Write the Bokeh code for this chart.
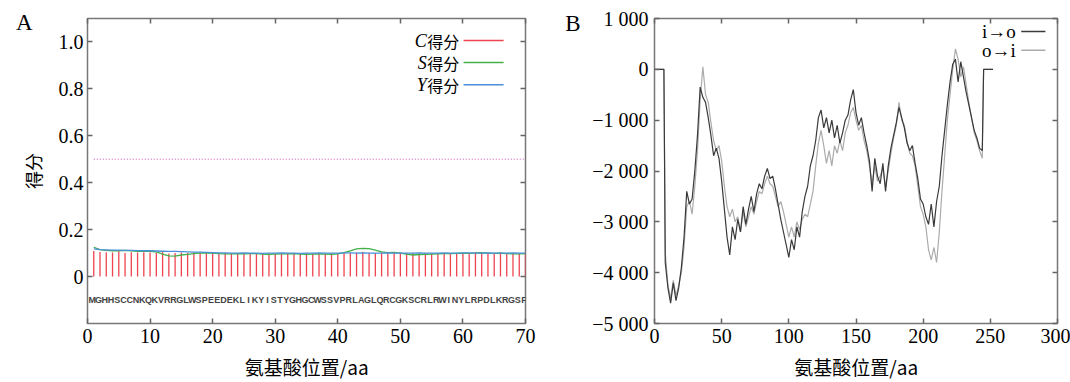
from bokeh.plotting import figure
from bokeh.models import LinearAxis, Label, FixedTicker
from bokeh.layouts import row
from bokeh.embed import file_html
from bokeh.resources import INLINE
from bokeh.core.properties import value

SERIF = "Liberation Serif"
CJK = "Noto Sans CJK SC"

# ---------------- Panel A data ----------------
seq = "MGHHSCCNKQKVRRGLWSPEEDEKLIKYISTYGHGCWSSVPRLAGLQRCGKSCRLRWINYLRPDLKRGSF"
positions_A = list(range(1, 71))
c_score = [0.109, 0.105, 0.104, 0.103, 0.108, 0.100, 0.104, 0.103, 0.104, 0.103,
           0.102, 0.105, 0.098, 0.100, 0.103, 0.101, 0.104, 0.103, 0.101, 0.100,
           0.101, 0.099, 0.100, 0.099, 0.101, 0.100, 0.101, 0.099, 0.098, 0.100,
           0.099, 0.101, 0.100, 0.098, 0.101, 0.099, 0.100, 0.101, 0.100, 0.099,
           0.100, 0.101, 0.103, 0.106, 0.102, 0.100, 0.103, 0.101, 0.100, 0.102,
           0.101, 0.100, 0.099, 0.100, 0.101, 0.100, 0.099, 0.101, 0.100, 0.101,
           0.100, 0.103, 0.104, 0.102, 0.101, 0.103, 0.101, 0.100, 0.101, 0.100]
s_score = [0.125, 0.115, 0.112, 0.110, 0.110, 0.112, 0.110, 0.108, 0.107, 0.108,
           0.105, 0.096, 0.088, 0.087, 0.092, 0.095, 0.098, 0.100, 0.101, 0.100,
           0.098, 0.097, 0.097, 0.098, 0.097, 0.098, 0.098, 0.096, 0.095, 0.096,
           0.097, 0.097, 0.098, 0.096, 0.095, 0.096, 0.096, 0.096, 0.095, 0.097,
           0.102, 0.110, 0.118, 0.120, 0.119, 0.113, 0.105, 0.102, 0.103, 0.100,
           0.096, 0.092, 0.094, 0.095, 0.096, 0.097, 0.098, 0.098, 0.099, 0.100,
           0.099, 0.101, 0.102, 0.100, 0.099, 0.100, 0.098, 0.097, 0.097, 0.098]
y_score = [0.118, 0.115, 0.114, 0.113, 0.113, 0.112, 0.112, 0.111, 0.110, 0.110,
           0.109, 0.108, 0.107, 0.107, 0.106, 0.105, 0.104, 0.104, 0.103, 0.102,
           0.101, 0.101, 0.100, 0.100, 0.101, 0.100, 0.100, 0.099, 0.100, 0.100,
           0.101, 0.100, 0.100, 0.099, 0.100, 0.100, 0.101, 0.100, 0.100, 0.100,
           0.101, 0.101, 0.100, 0.101, 0.100, 0.100, 0.100, 0.101, 0.100, 0.100,
           0.100, 0.100, 0.101, 0.100, 0.100, 0.100, 0.101, 0.100, 0.100, 0.101,
           0.101, 0.100, 0.100, 0.101, 0.100, 0.100, 0.100, 0.101, 0.100, 0.100]
cutoff = 0.5
seq_y = -0.1
xticks_A = [0, 10, 20, 30, 40, 50, 60, 70]
yticks_A = [0, 0.2, 0.4, 0.6, 0.8, 1.0]
ylabels_A = ["0", "0.2", "0.4", "0.6", "0.8", "1.0"]
legend_A = [("C", "#ee4450"), ("S", "#44b04a"), ("Y", "#4a90d8")]

# ---------------- Panel B data ----------------
pos_B = [0, 7] + list(range(8, 245, 2)) + [245, 252]
io_vals = [0, 0,
           -3800, -4300, -4600, -4200, -4550, -4300, -3900, -3300, -2400, -2650,
           -2550, -2000, -1300, -350, -550, -650, -950, -1300, -1700, -1550,
           -1750, -2200, -2750, -3300, -3650, -3100, -3350, -2950, -3200, -2700,
           -3050, -2750, -2500, -2800, -2450, -2250, -2350, -2100, -1950, -2150,
           -2100, -2350, -2650, -2950, -3200, -3450, -3700, -3350, -3550, -3100,
           -3300, -2800, -2500, -2300, -1900, -1700, -1400, -950, -800, -1150,
           -950, -1250, -1000, -1350, -1100, -1450, -1250, -1000, -900, -600,
           -400, -850, -1100, -950, -1250, -1500, -1800, -2400, -1750, -2100,
           -2250, -1850, -2400, -1900, -1550, -1300, -1050, -750, -950, -1150,
           -1450, -1600, -1500, -1850, -2150, -2550, -2650, -2900, -3050, -2650,
           -3100, -2600, -2300, -1700, -1200, -700, -250, 100, 200, -250,
           150, -150, -450, -700, -950, -1200, -1350, -1550, -1600,
           0, 0]
oi_vals = [0, 0,
           -3600, -4250, -4500, -4150, -4450, -4250, -4000, -3500, -2700, -2600,
           -2850, -2300, -1600, -600, 50, -500, -650, -1050, -1400, -1600,
           -1500, -1800, -2300, -2700, -2900, -2750, -3000, -2900, -3200, -2800,
           -3100, -2900, -2700, -2850, -2600, -2400, -2450, -2250, -2100, -2250,
           -2300, -2500, -2700, -2600, -2800, -3050, -3300, -3100, -3300, -3000,
           -3150, -2950, -2850, -2900, -2650, -2400, -1900, -1450, -1200, -1500,
           -1850, -1600, -1900, -1500, -1650, -1400, -1600, -1250, -1100, -850,
           -750, -1000, -1200, -1100, -1400, -1600, -1900, -2250, -1900, -2200,
           -2100, -1950, -2300, -2000, -1650, -1350, -1100, -650, -1000, -1100,
           -1400, -1650, -1700, -1900, -2300, -2700, -2850, -3100, -3550, -3750,
           -3500, -3800, -3200, -2400, -1700, -1000, -500, 0, 400, 200,
           -150, 50, -300, -650, -950, -1250, -1400, -1600, -1750,
           0, 0]
xticks_B = [0, 50, 100, 150, 200, 250, 300]
yticks_B = [-5000, -4000, -3000, -2000, -1000, 0, 1000]
ylabels_B = ["\u22125 000", "\u22124 000", "\u22123 000", "\u22122 000", "\u22121 000", "0", "1 000"]
legend_B = [("i\u2192o", "#3a3a3a"), ("o\u2192i", "#ababab")]


def style_frame(p, xt, yt, ylabels):
    bx = p.below[0]
    ly = p.left[0]
    bx.ticker = FixedTicker(ticks=xt)
    ly.ticker = FixedTicker(ticks=yt)
    ly.major_label_overrides = {t: s for t, s in zip(yt, ylabels)}
    top = LinearAxis(ticker=FixedTicker(ticks=xt))
    right = LinearAxis(ticker=FixedTicker(ticks=yt))
    for ax, tt in ((top, xt), (right, yt)):
        ax.major_label_overrides = {t: "" for t in tt}
        ax.major_label_text_font_size = "0px"
        ax.major_label_text_color = None
        ax.major_label_standoff = 0
    p.add_layout(top, "above")
    p.add_layout(right, "right")
    for ax in (bx, ly, top, right):
        ax.axis_line_color = None
        ax.major_tick_in = 5
        ax.major_tick_out = 0
        ax.major_tick_line_color = "#666666"
        ax.major_tick_line_width = 1.5
        ax.minor_tick_line_color = None
    for ax in (bx, ly):
        ax.major_label_text_font = SERIF
        ax.major_label_text_font_size = "20px"
        ax.major_label_text_color = "#000000"
    bx.major_label_standoff = 5
    ly.major_label_standoff = 4
    bx.axis_label = "氨基酸位置/aa"
    bx.axis_label_text_font = CJK
    bx.axis_label_text_font_size = "19px"
    bx.axis_label_text_font_style = "normal"
    bx.axis_label_text_color = "#000000"
    bx.axis_label_standoff = 7
    p.outline_line_color = "#777777"
    p.outline_line_width = 1.5
    p.xgrid.visible = False
    p.ygrid.visible = False
    p.background_fill_color = "white"
    p.border_fill_color = "white"


def panel_letter(p, letter, y_pos, standoff):
    # the panel letter is drawn as the only tick label of an outer left axis
    ax = LinearAxis(ticker=FixedTicker(ticks=[y_pos]))
    ax.major_label_overrides = {y_pos: letter}
    ax.major_label_text_font = SERIF
    ax.major_label_text_font_size = "23px"
    ax.major_label_text_color = "#000000"
    ax.major_label_standoff = standoff
    ax.axis_line_color = None
    ax.major_tick_line_color = None
    ax.major_tick_in = 0
    ax.major_tick_out = 0
    ax.minor_tick_line_color = None
    p.add_layout(ax, "left")


# ---------------- Panel A ----------------
pA = figure(width=560, height=382, x_range=(0, 70), y_range=(-0.2, 1.1),
            output_backend="svg", toolbar_location=None,
            min_border_left=87, min_border_right=35, min_border_top=18, min_border_bottom=59)
style_frame(pA, xticks_A, yticks_A, ylabels_A)
pA.left[0].axis_label = "得分"
pA.left[0].axis_label_text_font = CJK
pA.left[0].axis_label_text_font_size = "18px"
pA.left[0].axis_label_text_font_style = "normal"
pA.left[0].axis_label_text_color = "#000000"
pA.left[0].axis_label_standoff = 10
panel_letter(pA, "A", 1.083, -16)

pA.line([positions_A[0], positions_A[-1]], [cutoff, cutoff], line_color="#dd88cc",
        line_width=1.3, line_dash="1 2")
pA.segment(x0=positions_A, y0=[0] * len(positions_A), x1=positions_A, y1=c_score,
           line_color=legend_A[0][1], line_width=1.3)
pA.line(positions_A, s_score, line_color=legend_A[1][1], line_width=1.3)
pA.line(positions_A, y_score, line_color=legend_A[2][1], line_width=1.3)
pA.text(x=[x - 0.25 for x in positions_A], y=[seq_y] * len(seq), text=list(seq),
        text_font=value("Liberation Sans"), text_font_style="bold",
        text_font_size="9px", text_color="#444444",
        text_align="center", text_baseline="middle")

# legend A (text to the left of the line sample)
leg_rows_A = [1.006, 0.912, 0.818]
for (name, col), yy in zip(legend_A, leg_rows_A):
    pA.add_layout(Label(x=59.4, y=yy, text="得分", text_font=CJK, text_font_size="16px",
                        text_align="right", text_baseline="middle", text_color="#000000"))
    pA.add_layout(Label(x=54.2, y=yy, text=name, text_font=SERIF, text_font_size="18px",
                        text_font_style="italic", text_align="right", text_baseline="middle",
                        text_color="#000000"))
    pA.line([60.1, 66.5], [yy, yy], line_color=col, line_width=1.5)

# ---------------- Panel B ----------------
pB = figure(width=510, height=382, x_range=(0, 300), y_range=(-5000, 1000),
            output_backend="svg", toolbar_location=None,
            min_border_left=94, min_border_right=13, min_border_top=17, min_border_bottom=59)
style_frame(pB, xticks_B, yticks_B, ylabels_B)
pB.left[0].major_label_standoff = 6
panel_letter(pB, "B", 900, 9)

pB.line(pos_B, oi_vals, line_color=legend_B[1][1], line_width=1.2)
pB.line(pos_B, io_vals, line_color=legend_B[0][1], line_width=1.2)

leg_rows_B = [745, 373]
for (name, col), yy in zip(legend_B, leg_rows_B):
    pB.add_layout(Label(x=269, y=yy, text=name, text_font=SERIF, text_font_size="19px",
                        text_align="right", text_baseline="middle", text_color="#000000"))
    pB.line([273, 291], [yy, yy], line_color=col, line_width=1.5)

layout = row(pA, pB)
open("out.html", "w").write(file_html(layout, INLINE))
